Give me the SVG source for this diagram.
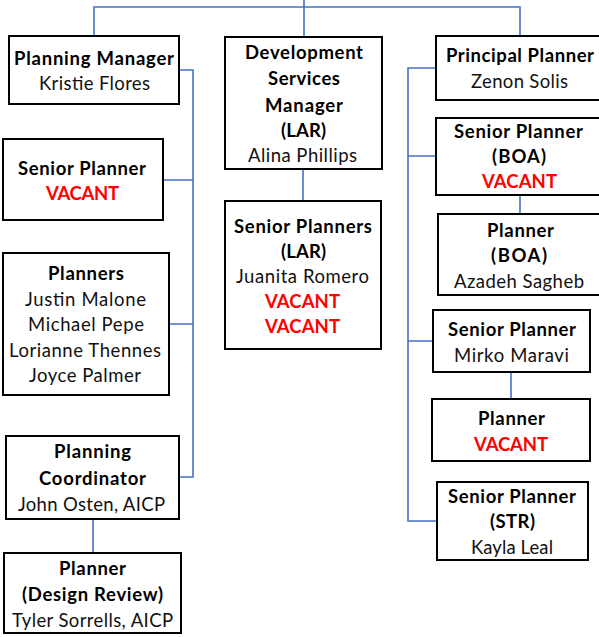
<svg xmlns="http://www.w3.org/2000/svg" width="599" height="637" viewBox="0 0 599 637">
<style>
.box{fill:#fff;stroke:#000;stroke-width:2}
.con{fill:none;stroke:#4472C4;stroke-width:1.6}
text{font-family:Lato,"Open Sans","Liberation Sans",sans-serif;font-size:18.5px;text-anchor:middle;fill:#111}
.b{font-weight:bold;fill:#000}
.r{font-weight:bold;fill:#FF0000}
</style>
<rect width="599" height="637" fill="#fff"/>
<g id="connectors">
<path class="con" d="M94,36 V7 H520 V36 M304,0 V37"/>
<path class="con" d="M179,70 H193 V477 H179 M163,180 H193 M169,324 H193"/>
<path class="con" d="M93,519 V553"/>
<path class="con" d="M303,169 V201"/>
<path class="con" d="M436,68 H408 V521 H437 M408,156 H436 M408,341 H433"/>
<path class="con" d="M520,195 V214"/>
<path class="con" d="M511,372 V399"/>
</g>
<g id="planning-manager">
<rect class="box" x="9" y="36" width="170" height="68"/>
<text class="b" x="94" y="65" textLength="160">Planning Manager</text>
<text x="94.5" y="90" textLength="111">Kristie Flores</text>
</g>
<g id="senior-planner-left">
<rect class="box" x="3" y="139" width="160" height="81"/>
<text class="b" x="82" y="175" textLength="128">Senior Planner</text>
<text class="r" x="82.5" y="200" textLength="73">VACANT</text>
</g>
<g id="planners">
<rect class="box" x="3" y="253" width="166" height="142"/>
<text class="b" x="86" y="280" textLength="76">Planners</text>
<text x="85.5" y="305.5" textLength="121">Justin Malone</text>
<text x="86" y="331" textLength="116">Michael Pepe</text>
<text x="85" y="356.5" textLength="152">Lorianne Thennes</text>
<text x="85" y="382" textLength="112">Joyce Palmer</text>
</g>
<g id="planning-coordinator">
<rect class="box" x="6" y="436" width="173" height="83"/>
<text class="b" x="92.5" y="458" textLength="77">Planning</text>
<text class="b" x="92.5" y="485" textLength="107">Coordinator</text>
<text x="91.5" y="510.5" textLength="147">John Osten, AICP</text>
</g>
<g id="planner-design-review">
<rect class="box" x="4" y="553" width="177" height="80"/>
<text class="b" x="92.5" y="575" textLength="67">Planner</text>
<text class="b" x="92.5" y="601" textLength="141">(Design Review)</text>
<text x="92.5" y="626.5" textLength="161">Tyler Sorrells, AICP</text>
</g>
<g id="development-services-manager">
<rect class="box" x="225" y="37" width="157" height="132"/>
<text class="b" x="304" y="58.5" textLength="118">Development</text>
<text class="b" x="304" y="85" textLength="72">Services</text>
<text class="b" x="304" y="111.5" textLength="78">Manager</text>
<text class="b" x="303.5" y="137" textLength="45">(LAR)</text>
<text x="302.5" y="162" textLength="109">Alina Phillips</text>
</g>
<g id="senior-planners-lar">
<rect class="box" x="225" y="201" width="156" height="148"/>
<text class="b" x="303" y="232.5" textLength="138">Senior Planners</text>
<text class="b" x="303.5" y="257.5" textLength="45">(LAR)</text>
<text x="302.5" y="282.5" textLength="133">Juanita Romero</text>
<text class="r" x="302.5" y="307.5" textLength="75">VACANT</text>
<text class="r" x="302.5" y="333" textLength="75">VACANT</text>
</g>
<g id="principal-planner">
<rect class="box" x="436" y="36" width="166" height="64"/>
<text class="b" x="520" y="62" textLength="148">Principal Planner</text>
<text x="519.5" y="88" textLength="97">Zenon Solis</text>
</g>
<g id="senior-planner-boa">
<rect class="box" x="436" y="118" width="166" height="77"/>
<text class="b" x="518.5" y="137.5" textLength="129">Senior Planner</text>
<text class="b" x="519" y="163" textLength="54">(BOA)</text>
<text class="r" x="519.5" y="188" textLength="75">VACANT</text>
</g>
<g id="planner-boa">
<rect class="box" x="438" y="214" width="164" height="81"/>
<text class="b" x="520.5" y="236.5" textLength="67">Planner</text>
<text class="b" x="519" y="262" textLength="56">(BOA)</text>
<text x="519" y="287.5" textLength="130">Azadeh Sagheb</text>
</g>
<g id="senior-planner-mirko">
<rect class="box" x="433" y="310" width="157" height="62"/>
<text class="b" x="512" y="335.5" textLength="128">Senior Planner</text>
<text x="511.5" y="361.5" textLength="115">Mirko Maravi</text>
</g>
<g id="planner-vacant">
<rect class="box" x="432" y="399" width="158" height="62"/>
<text class="b" x="511.5" y="424.5" textLength="67">Planner</text>
<text class="r" x="511" y="450.5" textLength="74">VACANT</text>
</g>
<g id="senior-planner-str">
<rect class="box" x="437" y="482" width="151" height="78"/>
<text class="b" x="512" y="503" textLength="128">Senior Planner</text>
<text class="b" x="512.5" y="528" textLength="45">(STR)</text>
<text x="512" y="554" textLength="82">Kayla Leal</text>
</g>
</svg>
